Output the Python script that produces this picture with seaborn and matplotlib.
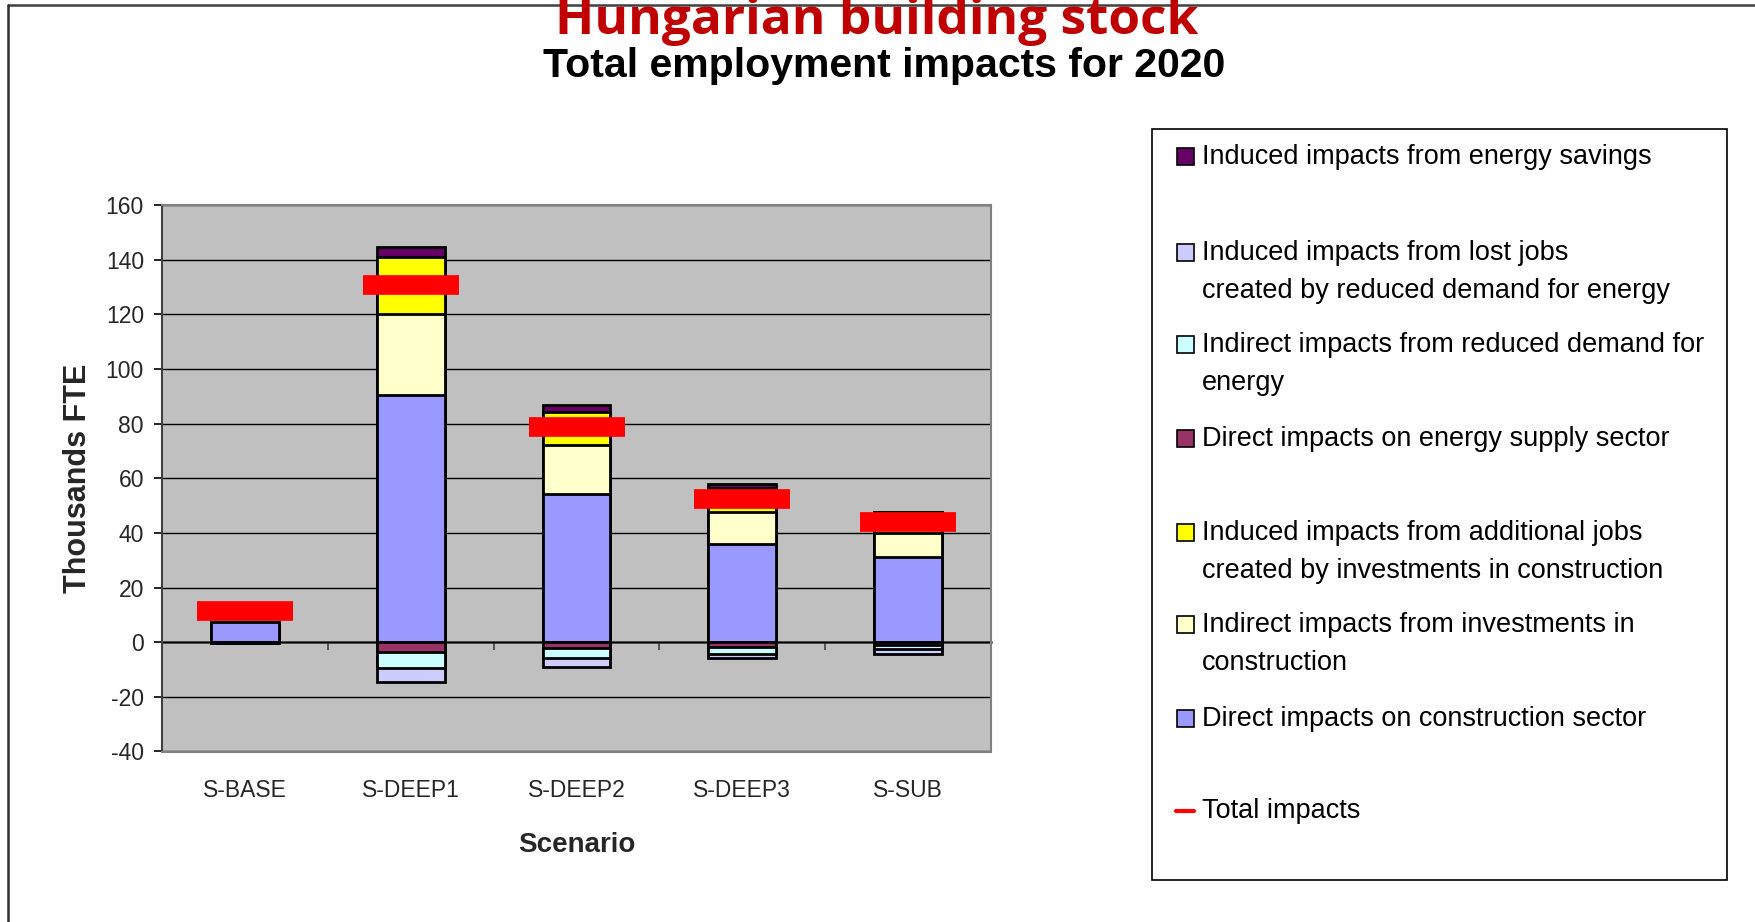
import matplotlib
matplotlib.use("Agg")
import matplotlib.pyplot as plt
from matplotlib.patches import Rectangle
from matplotlib.lines import Line2D
import numpy as np
import pandas as pd
import seaborn as sns

# ---- data (thousand FTE, 2020) ----
scenarios = ["S-BASE", "S-DEEP1", "S-DEEP2", "S-DEEP3", "S-SUB"]

direct_construction = [7.4, 90.5, 54.3, 35.8, 31.0]
indirect_investment = [0.0, 29.5, 17.7, 11.9, 9.0]
induced_investment = [0.0, 21.0, 12.4, 8.8, 7.5]
induced_savings = [0.0, 3.5, 2.3, 1.5, 0.3]

direct_energy_supply = [-0.2, -3.6, -2.1, -1.6, -1.1]
indirect_energy_demand = [-0.1, -5.9, -3.7, -2.7, -1.5]
induced_lost_jobs = [-0.1, -5.2, -3.2, -1.6, -1.6]

total_impacts = [11.5, 130.8, 78.9, 52.3, 43.9]

legend_labels = [
    ["Induced impacts from energy savings"],
    ["Induced impacts from lost jobs", "created by reduced demand for energy"],
    ["Indirect impacts from reduced demand for", "energy"],
    ["Direct impacts on energy supply sector"],
    ["Induced impacts from additional jobs", "created by investments in construction"],
    ["Indirect impacts from investments in", "construction"],
    ["Direct impacts on construction sector"],
    ["Total impacts"],
]

# ---- styling ----
C_SAVINGS = "#660066"
C_LOST = "#CCCCFF"
C_IND_ENERGY = "#CCFFFF"
C_SUPPLY = "#993366"
C_INDUCED = "#FFFF00"
C_INDIRECT = "#FFFFCC"
C_DIRECT = "#9999FF"
C_TOTAL = "#FF0000"

sns.set_style("ticks")
plt.rcParams["font.family"] = ["Liberation Sans", "DejaVu Sans"]
plt.rcParams["axes.unicode_minus"] = False

W, H = 1756, 922
fig = plt.figure(figsize=(W / 100, H / 100), dpi=100)
fig.patch.set_facecolor("white")


def fx(x):
    return x / W


def fy(y):
    return 1 - y / H


ax = fig.add_axes([fx(162), fy(751.5), fx(991) - fx(162), fy(205) - fy(751.5)])
ax.set_facecolor("#C0C0C0")

df = pd.DataFrame({
    "scenario": scenarios,
    "direct": direct_construction,
    "indirect": indirect_investment,
    "induced": induced_investment,
    "savings": induced_savings,
    "supply": direct_energy_supply,
    "ind_energy": indirect_energy_demand,
    "lost": induced_lost_jobs,
    "total": total_impacts,
})

# cumulative stacks: draw tallest first so shorter layers sit on top
pos_layers = [("direct", C_DIRECT), ("indirect", C_INDIRECT),
              ("induced", C_INDUCED), ("savings", C_SAVINGS)]
neg_layers = [("supply", C_SUPPLY), ("ind_energy", C_IND_ENERGY), ("lost", C_LOST)]

for layers in (pos_layers, neg_layers):
    cols = [c for c, _ in layers]
    cum = df[cols].cumsum(axis=1)
    for col, color in reversed(layers):
        sns.barplot(x=df["scenario"], y=cum[col], order=scenarios, color=color,
                    saturation=1, width=0.41, edgecolor="black", linewidth=2.0,
                    errorbar=None, ax=ax, zorder=3)

# total impacts marker
ax.plot(np.arange(len(scenarios)), df["total"], linestyle="none", marker="_",
        markersize=69.5, markeredgewidth=14.2, color=C_TOTAL, zorder=5)

ax.set_xlim(-0.5, len(scenarios) - 0.5)
ax.set_ylim(-40, 160)
ax.set_yticks(np.arange(-40, 161, 20))
ax.yaxis.grid(True, color="black", linewidth=1.0, zorder=1)
ax.set_axisbelow(True)

ax.tick_params(axis="y", direction="out", length=6, width=1.2, color="black",
               labelsize=16.5, pad=7)
ax.tick_params(axis="x", length=0, labelsize=16.5, pad=20)
ax.set_xticks(range(len(scenarios)))
ax.set_xticklabels(scenarios)

for side in ("top", "right", "bottom"):
    ax.spines[side].set_color("#808080")
    ax.spines[side].set_linewidth(1.5)
ax.spines["left"].set_color("#404040")
ax.spines["left"].set_linewidth(1.5)

# category axis crossing at zero, with ticks between categories
zero_axis = ax.secondary_xaxis(40 / 200)
zero_axis.set_xticks(np.arange(len(scenarios)) + 0.5)
zero_axis.set_xticklabels([])
zero_axis.tick_params(direction="out", length=6, width=1.2, color="#404040")
zero_axis.spines["bottom"].set_color("#404040")
zero_axis.spines["bottom"].set_linewidth(1.8)

ax.set_xlabel("Scenario", fontsize=20, fontweight="bold")
ax.xaxis.set_label_coords(0.5, (751.5 - 845) / 546.5)
ax.xaxis.label.set_va("center")
ax.set_ylabel("Thousands FTE", fontsize=22, fontweight="bold")
ax.yaxis.set_label_coords((78 - 162) / 829, 0.5)
ax.yaxis.label.set_va("center")
ax.yaxis.label.set_ha("center")

# frame around the chart area
fig.add_artist(Line2D([fx(8), 1], [fy(5), fy(5)], color="#404040", lw=1.8,
                      transform=fig.transFigure))
fig.add_artist(Line2D([fx(8), fx(8)], [fy(5), 0], color="#303030", lw=1.8,
                      transform=fig.transFigure))

# titles
fig.text(fx(877), fy(34), "Hungarian building stock", ha="center", va="baseline",
         fontsize=37, fontweight="bold", color="#C00000",
         family=["Open Sans", "DejaVu Sans"], zorder=10)
fig.text(fx(884), fy(77), "Total employment impacts for 2020", ha="center",
         va="baseline", fontsize=29.5, fontweight="bold", color="black")

# legend
fig.add_artist(Rectangle((fx(1152), fy(880)), fx(1727) - fx(1152), fy(129) - fy(880),
                         transform=fig.transFigure, facecolor="white",
                         edgecolor="black", lw=1.2))
entry_y = [157, 253, 345, 439, 533, 625, 719, 811]
entry_colors = [C_SAVINGS, C_LOST, C_IND_ENERGY, C_SUPPLY, C_INDUCED, C_INDIRECT, C_DIRECT, None]
line_step = 38
for yc, color, lines in zip(entry_y, entry_colors, legend_labels):
    if color is None:
        fig.add_artist(Line2D([fx(1176), fx(1194)], [fy(yc), fy(yc)], color=C_TOTAL,
                              lw=3, transform=fig.transFigure))
    else:
        fig.add_artist(Rectangle((fx(1177), fy(yc + 8)), fx(17), 17 / H,
                                 transform=fig.transFigure, facecolor=color,
                                 edgecolor="black", lw=1.2))
    for i, line in enumerate(lines):
        fig.text(fx(1202), fy(yc + i * line_step), line, ha="left", va="center",
                 fontsize=19.5, color="black")

fig.savefig("out.png", dpi=100)
